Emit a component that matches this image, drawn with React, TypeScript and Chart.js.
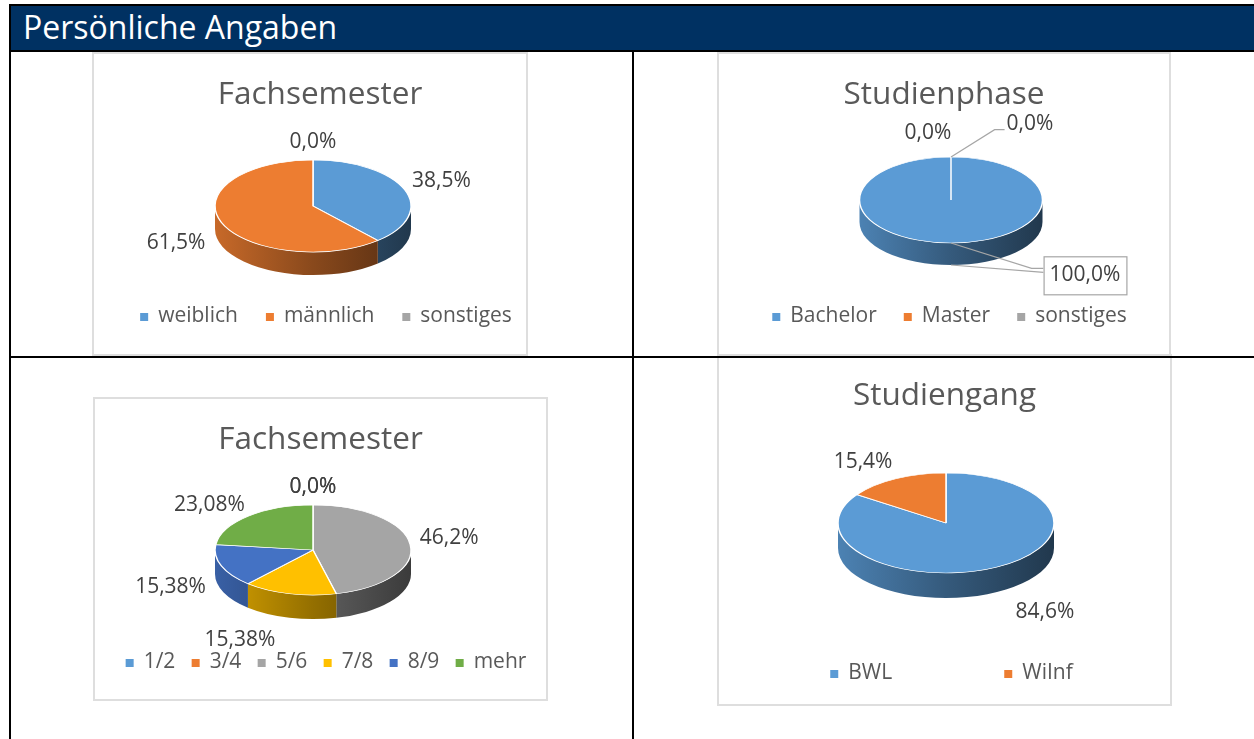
import React, { useEffect, useRef } from 'react';
import { Chart, registerables } from 'chart.js';

Chart.register(...registerables);

// ---------------- data ----------------
const genderTitle = 'Fachsemester';
const genderLabels = ['weiblich', 'männlich', 'sonstiges'];
const genderValues = [38.5, 61.5, 0.0];
const genderDecimals = [1, 1, 1];

const phaseTitle = 'Studienphase';
const phaseLabels = ['Bachelor', 'Master', 'sonstiges'];
const phaseValues = [100.0, 0.0, 0.0];
const phaseDecimals = [1, 1, 1];

const semesterTitle = 'Fachsemester';
const semesterLabels = ['1/2', '3/4', '5/6', '7/8', '8/9', 'mehr'];
const semesterValues = [0.0, 0.0, 46.2, 15.38, 15.38, 23.08];
const semesterDecimals = [1, 1, 1, 2, 2, 2];

const programTitle = 'Studiengang';
const programLabels = ['BWL', 'WiInf'];
const programValues = [84.6, 15.4];
const programDecimals = [1, 1];

const headerText = 'Persönliche Angaben';

// ---------------- styles ----------------
const FONT = '"Open Sans", "Noto Sans", sans-serif';
const OFFICE = ['#5B9BD5', '#ED7D31', '#A5A5A5', '#FFC000', '#4472C4', '#70AD47'];

type Spec = {
  title: string;
  labels: string[];
  values: number[];
  decimals: number[];
  colors: string[];
  box: { left: number; top: number; width: number; height: number; canvasWidth: number };
  titlePad: number;
  pie: { cx: number; cy: number; r: number; tilt: number; depth: number };
  legend: { cx: number; y: number; itemGap?: number; itemWidth?: number };
  nudges: number[][];
  leaders?: (null | 'elbow' | 'box')[];
};

function shade(hex: string, f: number) {
  const h = hex.replace('#', '');
  const r = parseInt(h.slice(0, 2), 16);
  const g = parseInt(h.slice(2, 4), 16);
  const b = parseInt(h.slice(4, 6), 16);
  return `rgb(${Math.round(r * f)},${Math.round(g * f)},${Math.round(b * f)})`;
}

const fmt = (v: number, d: number) => v.toFixed(d).replace('.', ',') + '%';

function makePlugins(spec: Spec) {
  const { cx, cy, tilt, depth } = spec.pie;

  const pie3d = {
    id: 'pie3d',
    beforeDatasetsDraw(chart: any) {
      const arcs = chart.getDatasetMeta(0).data as any[];
      if (!arcs.length) return;
      const p0 = arcs[0].getProps(['x', 'y', 'outerRadius'], true);
      const rx = p0.outerRadius;
      const ry = rx * tilt;
      const ctx = chart.ctx as CanvasRenderingContext2D;
      const colors = chart.data.datasets[0].backgroundColor as string[];
      ctx.save();
      arcs.forEach((arc, i) => {
        const { startAngle: s, endAngle: e } = arc.getProps(['startAngle', 'endAngle'], true);
        if (e - s <= 0) return;
        for (let k = -1; k <= 2; k++) {
          const lo = Math.max(s, 2 * Math.PI * k);
          const hi = Math.min(e, 2 * Math.PI * k + Math.PI);
          if (hi <= lo) continue;
          const g = ctx.createLinearGradient(cx - rx, 0, cx + rx, 0);
          g.addColorStop(0, shade(colors[i], 0.84));
          g.addColorStop(0.5, shade(colors[i], 0.58));
          g.addColorStop(1, shade(colors[i], 0.36));
          ctx.beginPath();
          ctx.ellipse(cx, cy, rx, ry, 0, lo, hi, false);
          ctx.lineTo(cx + rx * Math.cos(hi), cy + ry * Math.sin(hi) + depth);
          ctx.ellipse(cx, cy + depth, rx, ry, 0, hi, lo, true);
          ctx.closePath();
          ctx.fillStyle = g;
          ctx.fill();
        }
      });
      ctx.restore();
      ctx.save();
      ctx.translate(cx, cy);
      ctx.scale(1, tilt);
      ctx.translate(-p0.x, -p0.y);
    },
    afterDatasetsDraw(chart: any) {
      chart.ctx.restore();
    },
  };

  const pieLabels = {
    id: 'pieLabels',
    afterDraw(chart: any) {
      const arcs = chart.getDatasetMeta(0).data as any[];
      const data = chart.data.datasets[0].data as number[];
      const ctx = chart.ctx as CanvasRenderingContext2D;
      ctx.save();
      ctx.font = `21px ${FONT}`;
      ctx.textAlign = 'center';
      ctx.textBaseline = 'middle';
      arcs.forEach((arc, i) => {
        const { startAngle, endAngle, outerRadius } = arc.getProps(['startAngle', 'endAngle', 'outerRadius'], true);
        const rx = outerRadius;
        const ry = rx * tilt;
        const m = (startAngle + endAngle) / 2;
        const c = Math.cos(m);
        const s = Math.sin(m);
        const text = fmt(data[i], spec.decimals[i]);
        const w = ctx.measureText(text).width;
        const ax = cx + rx * 1.1 * c;
        const ay = cy + ry * 1.1 * s + depth * Math.max(0, s);
        const [nx, ny] = spec.nudges[i] || [0, 0];
        const lx = ax + (c * w) / 2 + nx;
        const ly = ay + s * 13 + ny;
        const kind = spec.leaders ? spec.leaders[i] : null;
        const ex = cx + rx * c;
        const ey = cy + ry * s;
        ctx.strokeStyle = '#a6a6a6';
        ctx.lineWidth = 1.2;
        if (kind === 'elbow') {
          const left = lx - w / 2;
          ctx.beginPath();
          ctx.moveTo(ex, ey);
          ctx.lineTo(left - 12, ly + 6);
          ctx.lineTo(left - 2, ly + 6);
          ctx.stroke();
        } else if (kind === 'box') {
          const bw = w + 12;
          const bh = 38;
          const bl = lx - bw / 2;
          const bt = ly - bh / 2;
          ctx.beginPath();
          ctx.moveTo(ex, ey);
          ctx.lineTo(bl - 12, bt + 12);
          ctx.lineTo(bl, bt + 12);
          ctx.moveTo(ex, ey + depth);
          ctx.lineTo(bl, bt + 16);
          ctx.stroke();
          ctx.fillStyle = '#ffffff';
          ctx.fillRect(bl, bt, bw, bh);
          ctx.strokeRect(bl + 0.5, bt + 0.5, bw, bh);
        }
        ctx.fillStyle = '#404040';
        ctx.fillText(text, lx, ly);
      });
      ctx.restore();
    },
  };

  const pieLegend = {
    id: 'pieLegend',
    afterDraw(chart: any) {
      const ctx = chart.ctx as CanvasRenderingContext2D;
      const labels = chart.data.labels as string[];
      const colors = chart.data.datasets[0].backgroundColor as string[];
      const L = spec.legend;
      const box = 8;
      const gap = 10;
      ctx.save();
      ctx.font = `21px ${FONT}`;
      ctx.textBaseline = 'middle';
      ctx.textAlign = 'left';
      const widths = labels.map((l) => box + gap + ctx.measureText(l).width);
      const n = labels.length;
      const total = L.itemWidth
        ? L.itemWidth * (n - 1) + widths[n - 1]
        : widths.reduce((a, b) => a + b, 0) + (L.itemGap || 0) * (n - 1);
      let x = L.cx - total / 2;
      labels.forEach((l, i) => {
        ctx.fillStyle = colors[i];
        ctx.fillRect(x, L.y - box / 2 + 1, box, box);
        ctx.fillStyle = '#595959';
        ctx.fillText(l, x + box + gap, L.y);
        x += L.itemWidth ? L.itemWidth : widths[i] + (L.itemGap || 0);
      });
      ctx.restore();
    },
  };

  return [pie3d, pieLabels, pieLegend];
}

const specs: Spec[] = [
  {
    title: genderTitle,
    labels: genderLabels,
    values: genderValues,
    decimals: genderDecimals,
    colors: OFFICE.slice(0, 3),
    box: { left: 92, top: 52, width: 436, height: 304, canvasWidth: 456 },
    titlePad: 24.5,
    pie: { cx: 221, cy: 154, r: 98, tilt: 0.47, depth: 23 },
    legend: { cx: 234, y: 264, itemGap: 28 },
    nudges: [[0, -2.5], [-8.6, 6.4], [0, 0]],
  },
  {
    title: phaseTitle,
    labels: phaseLabels,
    values: phaseValues,
    decimals: phaseDecimals,
    colors: OFFICE.slice(0, 3),
    box: { left: 717, top: 52, width: 454, height: 304, canvasWidth: 454 },
    titlePad: 24.5,
    pie: { cx: 234, cy: 148, r: 91.5, tilt: 0.47, depth: 22 },
    legend: { cx: 232.5, y: 264, itemGap: 27 },
    nudges: [[134, -7], [-23, -7], [79, -16]],
    leaders: ['box', null, 'elbow'],
  },
  {
    title: semesterTitle,
    labels: semesterLabels,
    values: semesterValues,
    decimals: semesterDecimals,
    colors: OFFICE,
    box: { left: 93, top: 397, width: 455, height: 304, canvasWidth: 455 },
    titlePad: 24.5,
    pie: { cx: 220, cy: 153, r: 98, tilt: 0.46, depth: 24 },
    legend: { cx: 233, y: 265, itemWidth: 66 },
    nudges: [[0, 0], [0, 0], [0, -4], [-38.6, 6], [-8.5, 6.3], [-8.6, 1.8]],
  },
  {
    title: programTitle,
    labels: programLabels,
    values: programValues,
    decimals: programDecimals,
    colors: OFFICE.slice(0, 2),
    box: { left: 717, top: 354, width: 455, height: 352, canvasWidth: 455 },
    titlePad: 23,
    pie: { cx: 229, cy: 169, r: 108, tilt: 0.463, depth: 25 },
    legend: { cx: 234.5, y: 319, itemWidth: 174 },
    nudges: [[30, 7], [-14, -1]],
  },
];

function PieBox({ spec }: { spec: Spec }) {
  const ref = useRef<HTMLCanvasElement>(null);
  useEffect(() => {
    const chart = new Chart(ref.current as HTMLCanvasElement, {
      type: 'pie',
      data: {
        labels: spec.labels,
        datasets: [
          {
            data: spec.values,
            backgroundColor: spec.colors,
            borderColor: '#ffffff',
            borderWidth: 1.5,
            radius: spec.pie.r,
            clip: false,
          } as any,
        ],
      },
      options: {
        responsive: false,
        animation: false,
        events: [],
        layout: { padding: 0 },
        plugins: {
          legend: { display: false },
          tooltip: { enabled: false },
          title: {
            display: true,
            text: spec.title,
            color: '#595959',
            font: { family: FONT, size: 31.5, weight: 'normal', lineHeight: 1.2 },
            padding: { top: spec.titlePad, bottom: 4 },
          },
        },
      } as any,
      plugins: makePlugins(spec) as any,
    });
    return () => chart.destroy();
  }, [spec]);
  const b = spec.box;
  return (
    <div style={{ position: 'absolute', left: b.left, top: b.top, width: b.width, height: b.height, overflow: 'hidden' }}>
      <canvas ref={ref} width={b.canvasWidth} height={b.height} style={{ position: 'absolute', left: 0, top: 0 }} />
      <div
        style={{
          position: 'absolute',
          left: 0,
          top: 0,
          right: 0,
          bottom: 0,
          border: '2px solid #dedede',
          boxSizing: 'border-box',
          pointerEvents: 'none',
        }}
      />
    </div>
  );
}

export default function App() {
  useEffect(() => {
    document.body.style.overflow = 'hidden';
  }, []);
  const line = (l: number, t: number, w: number, h: number, key: string) => (
    <div key={key} style={{ position: 'absolute', left: l, top: t, width: w, height: h, background: '#000', zIndex: 5 }} />
  );
  return (
    <div style={{ position: 'absolute', left: 0, top: 0, width: 1254, height: 739, overflow: 'hidden', background: '#fff' }}>
      {/* header bar */}
      <div style={{ position: 'absolute', left: 9, top: 4, width: 1245, height: 48, background: '#003162', zIndex: 4 }} />
      <div
        style={{
          position: 'absolute',
          left: 23,
          top: 10.5,
          fontFamily: FONT,
          fontSize: 32,
          lineHeight: '32px',
          color: '#ffffff',
          whiteSpace: 'nowrap',
          zIndex: 6,
        }}
      >
        {headerText}
      </div>
      {line(9, 4, 1245, 2, 'top')}
      {line(9, 50, 1245, 2, 'hdrb')}
      {line(9, 4, 2, 735, 'left')}
      {line(632, 52, 2, 687, 'mid')}
      {line(9, 356, 1245, 2, 'row')}
      {specs.map((s, i) => (
        <PieBox key={i} spec={s} />
      ))}
    </div>
  );
}
